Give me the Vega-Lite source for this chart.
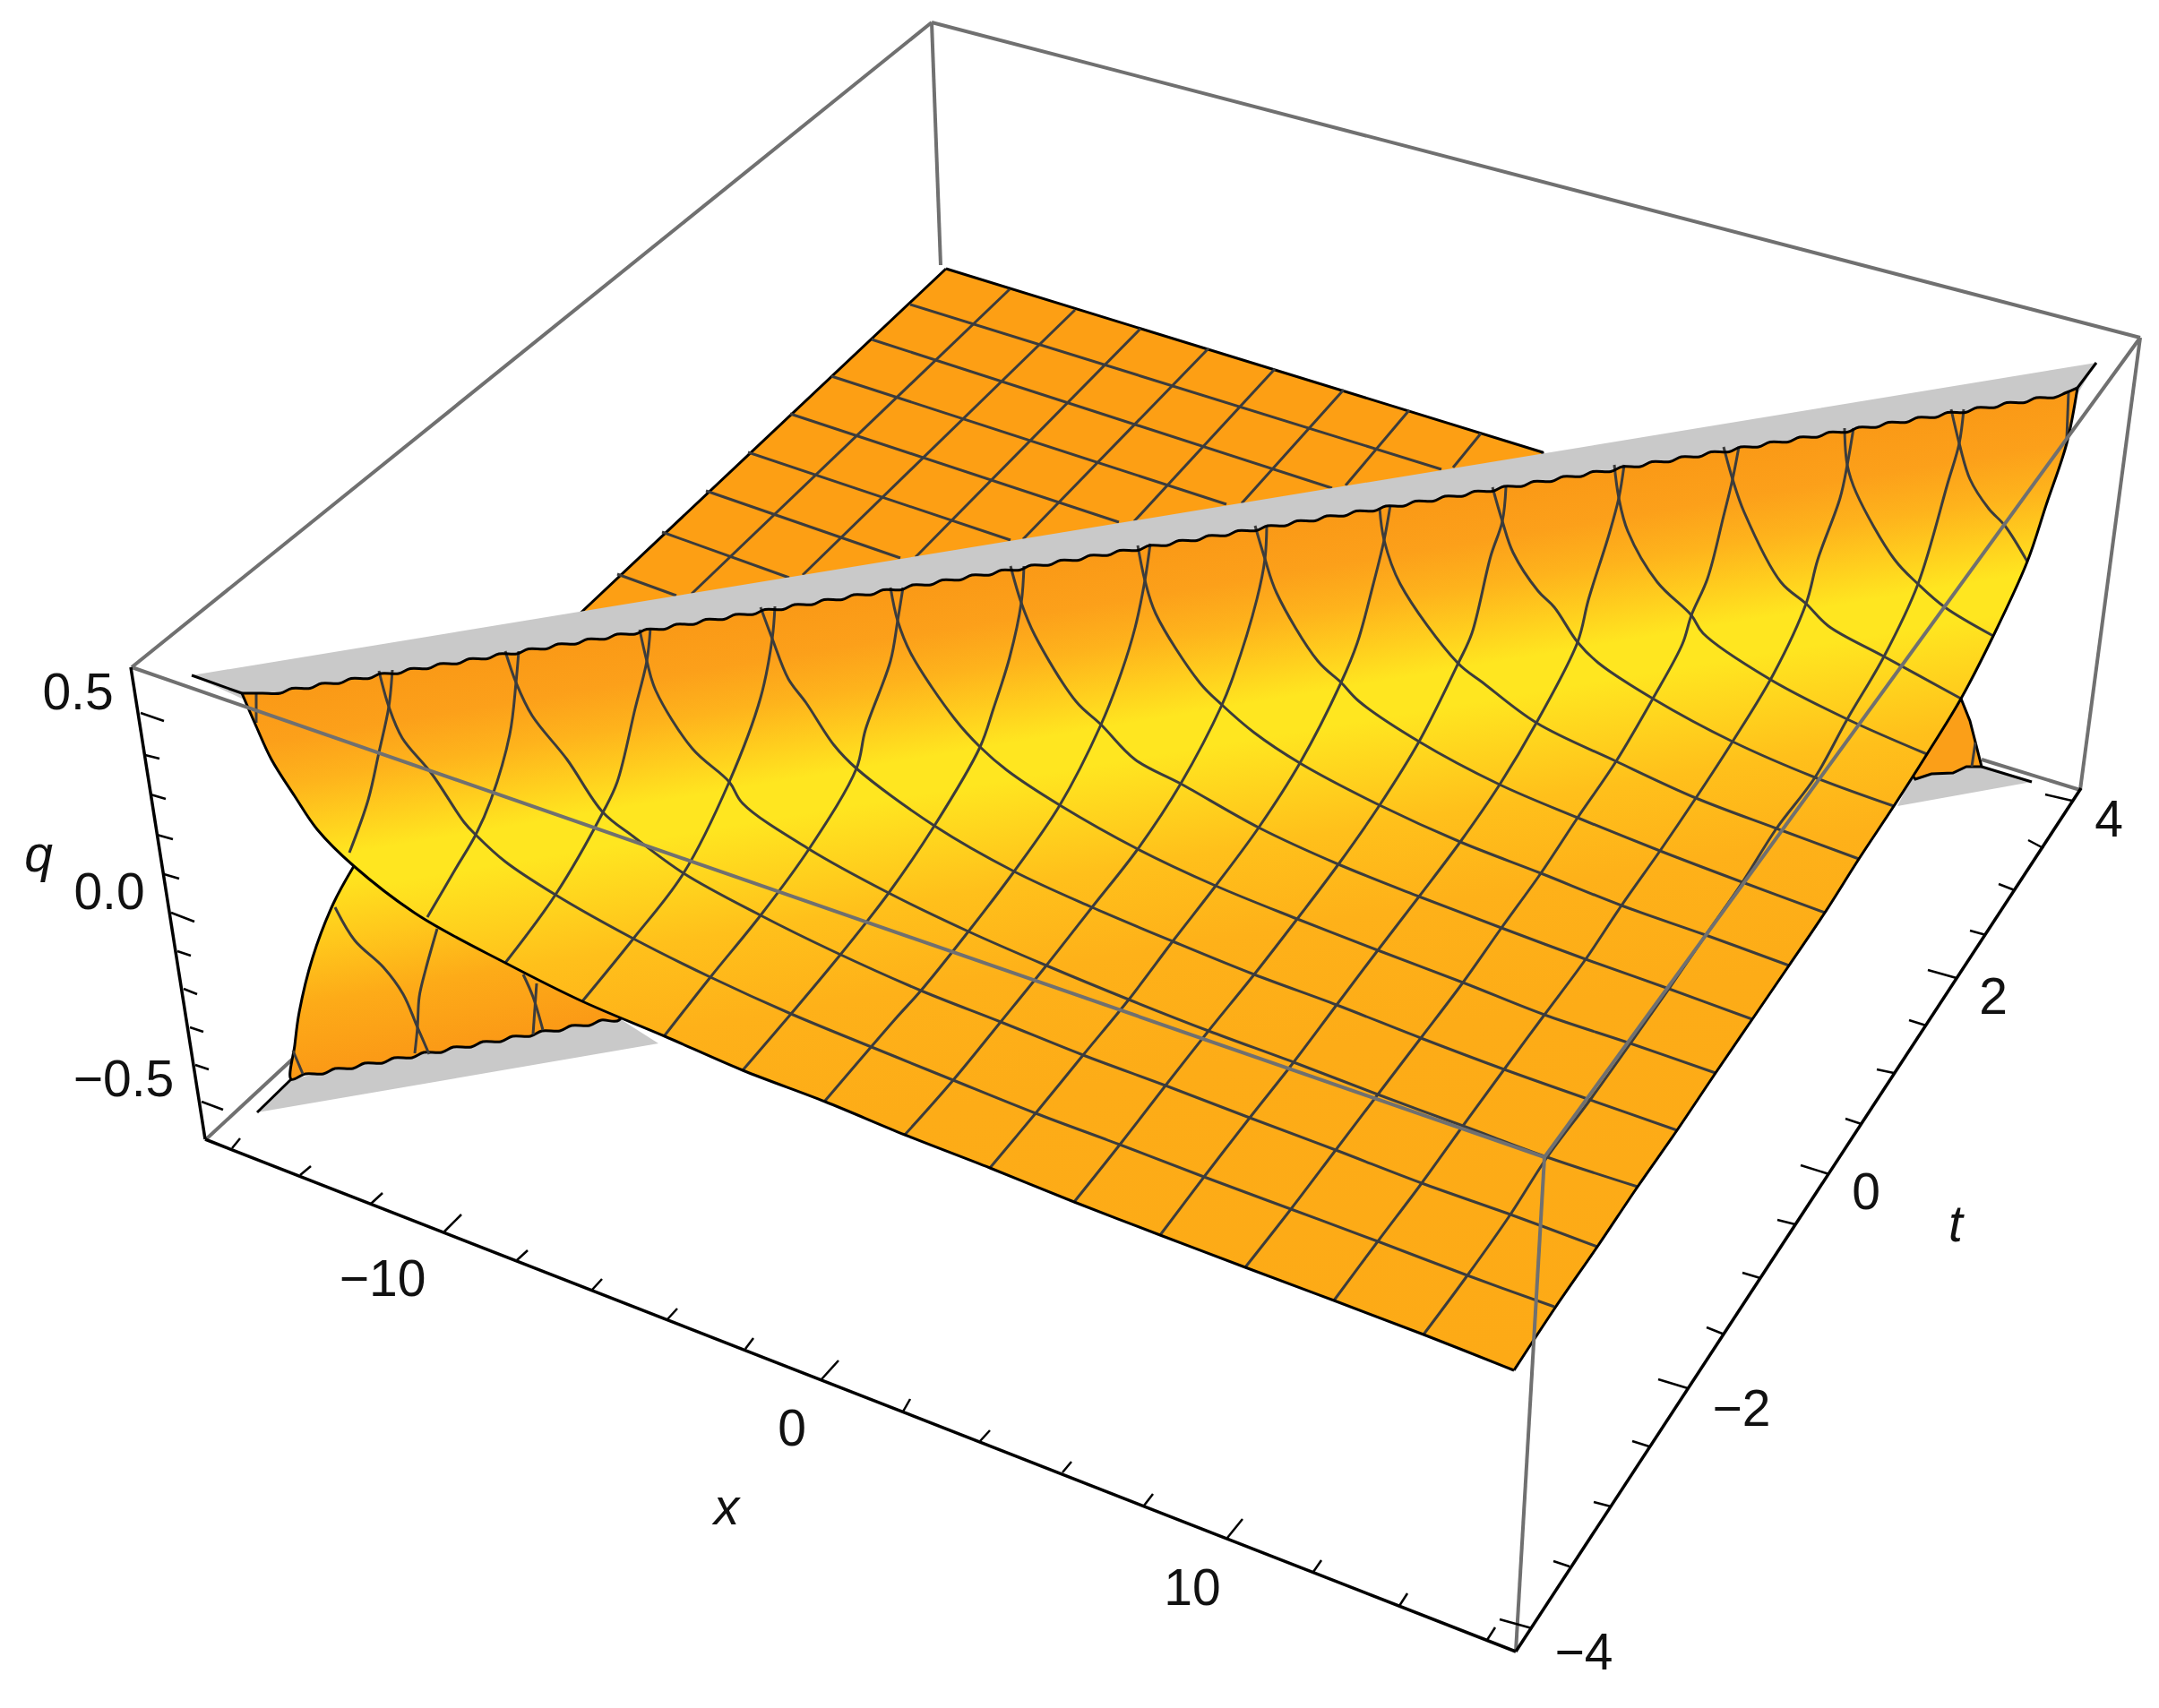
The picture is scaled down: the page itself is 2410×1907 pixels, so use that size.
{"$schema":"https://vega.github.io/schema/vega-lite/v6.json","width":2410,"height":1907,"padding":0,"autosize":{"type":"fit","contains":"padding"},"background":"white","config":{"view":{"stroke":null}},
"datasets":{
"plate":[{"sx":1056,"sy":300},{"sx":1722,"sy":505},{"sx":1722,"sy":515},{"sx":640,"sy":692},{"sx":1056,"sy":300}],
"plateMesh":[
{"p":"a","sx":1016,"sy":340},{"p":"a","sx":1609,"sy":524},{"p":"b","sx":973,"sy":379},{"p":"b","sx":1487,"sy":545},{"p":"c","sx":928,"sy":420},{"p":"c","sx":1369,"sy":563},{"p":"d","sx":882,"sy":462},{"p":"d","sx":1249,"sy":583},{"p":"e","sx":835,"sy":505},{"p":"e","sx":1128,"sy":603},{"p":"f","sx":788,"sy":548},{"p":"f","sx":1005,"sy":623},{"p":"g","sx":739,"sy":594},{"p":"g","sx":881,"sy":645},{"p":"h","sx":689,"sy":641},{"p":"h","sx":755,"sy":665},
{"p":"i","sx":1127,"sy":323},{"p":"i","sx":772,"sy":663},{"p":"j","sx":1200,"sy":346},{"p":"j","sx":896,"sy":642},{"p":"k","sx":1273,"sy":367},{"p":"k","sx":1022,"sy":622},{"p":"l","sx":1349,"sy":389},{"p":"l","sx":1142,"sy":602},{"p":"m","sx":1423,"sy":412},{"p":"m","sx":1266,"sy":582},{"p":"n","sx":1500,"sy":435},{"p":"n","sx":1386,"sy":562},{"p":"o","sx":1573,"sy":458},{"p":"o","sx":1502,"sy":542},{"p":"q","sx":1653,"sy":484},{"p":"q","sx":1622,"sy":522}],
"greyFront":[{"sx":214,"sy":754},{"sx":2340,"sy":405},{"sx":2319,"sy":440},{"sx":270,"sy":780}],
"greyLow":[{"sx":325,"sy":1205},{"sx":287,"sy":1242},{"sx":735,"sy":1165},{"sx":680,"sy":1130}],
"greyRight":[{"sx":2212,"sy":856},{"sx":2268,"sy":873},{"sx":2118,"sy":900},{"sx":2138,"sy":860}],
"lower":[{"sx":395,"sy":967},{"sx":372,"sy":1009},{"sx":349,"sy":1069},{"sx":334,"sy":1130},{"sx":329,"sy":1167},{"sx":325,"sy":1205},{"sx":341,"sy":1199},{"sx":361,"sy":1199},{"sx":374,"sy":1193},{"sx":394,"sy":1193},{"sx":407,"sy":1187},{"sx":427,"sy":1187},{"sx":440,"sy":1181},{"sx":460,"sy":1181},{"sx":473,"sy":1175},{"sx":493,"sy":1175},{"sx":506,"sy":1169},{"sx":526,"sy":1169},{"sx":539,"sy":1163},{"sx":559,"sy":1163},{"sx":572,"sy":1157},{"sx":592,"sy":1157},{"sx":605,"sy":1151},{"sx":625,"sy":1151},{"sx":638,"sy":1145},{"sx":658,"sy":1145},{"sx":671,"sy":1139},{"sx":691,"sy":1139},{"sx":700,"sy":1100},{"sx":500,"sy":1000},{"sx":395,"sy":967}],
"lowerMesh":[
{"p":"a","sx":374,"sy":1013},{"p":"a","sx":396,"sy":1050},{"p":"a","sx":428,"sy":1080},{"p":"a","sx":450,"sy":1110},{"p":"a","sx":466,"sy":1147},{"p":"a","sx":479,"sy":1177},
{"p":"b","sx":488,"sy":1037},{"p":"b","sx":475,"sy":1083},{"p":"b","sx":468,"sy":1113},{"p":"b","sx":466,"sy":1147},{"p":"b","sx":463,"sy":1176},
{"p":"c","sx":584,"sy":1088},{"p":"c","sx":595,"sy":1113},{"p":"c","sx":606,"sy":1150},
{"p":"d","sx":599,"sy":1098},{"p":"d","sx":595,"sy":1155},
{"p":"e","sx":327,"sy":1173},{"p":"e","sx":338,"sy":1199}],
"rightPiece":[{"sx":2189,"sy":780},{"sx":2199,"sy":805},{"sx":2212,"sy":856},{"sx":2195,"sy":856},{"sx":2180,"sy":863},{"sx":2156,"sy":864},{"sx":2138,"sy":870},{"sx":2130,"sy":860},{"sx":2189,"sy":780}],
"rightMesh":[{"p":"a","sx":2205,"sy":829},{"p":"a","sx":2201,"sy":856}],
"sheet":[{"sx":270,"sy":774},{"sx":293,"sy":774},{"sx":313,"sy":774},{"sx":326,"sy":768.5},{"sx":346,"sy":768.5},{"sx":359,"sy":763},{"sx":379,"sy":763},{"sx":392,"sy":757.5},{"sx":412,"sy":757.5},{"sx":425,"sy":752},{"sx":445,"sy":752},{"sx":458,"sy":746.5},{"sx":478,"sy":746.5},{"sx":491,"sy":741},{"sx":511,"sy":741},{"sx":524,"sy":735.5},{"sx":544,"sy":735.5},{"sx":557,"sy":730},{"sx":577,"sy":730},{"sx":590,"sy":724.5},{"sx":610,"sy":724.5},{"sx":623,"sy":719},{"sx":643,"sy":719},{"sx":656,"sy":713.5},{"sx":676,"sy":713.5},{"sx":689,"sy":708},{"sx":709,"sy":708},{"sx":722,"sy":702.5},{"sx":742,"sy":702.5},{"sx":755,"sy":697},{"sx":775,"sy":697},{"sx":788,"sy":691.5},{"sx":808,"sy":691.5},{"sx":821,"sy":686},{"sx":841,"sy":686},{"sx":854,"sy":680.5},{"sx":874,"sy":680.5},{"sx":887,"sy":675},{"sx":907,"sy":675},{"sx":920,"sy":669.5},{"sx":940,"sy":669.5},{"sx":953,"sy":664},{"sx":973,"sy":664},{"sx":986,"sy":658.5},{"sx":1006,"sy":658.5},{"sx":1019,"sy":653},{"sx":1039,"sy":653},{"sx":1052,"sy":647.5},{"sx":1072,"sy":647.5},{"sx":1085,"sy":642},{"sx":1105,"sy":642},{"sx":1118,"sy":636.5},{"sx":1138,"sy":636.5},{"sx":1151,"sy":631},{"sx":1171,"sy":631},{"sx":1184,"sy":625.5},{"sx":1204,"sy":625.5},{"sx":1217,"sy":620},{"sx":1237,"sy":620},{"sx":1250,"sy":614.5},{"sx":1270,"sy":614.5},{"sx":1283,"sy":609},{"sx":1303,"sy":609},{"sx":1316,"sy":603.5},{"sx":1336,"sy":603.5},{"sx":1349,"sy":598},{"sx":1369,"sy":598},{"sx":1382,"sy":592.5},{"sx":1402,"sy":592.5},{"sx":1415,"sy":587},{"sx":1435,"sy":587},{"sx":1448,"sy":581.5},{"sx":1468,"sy":581.5},{"sx":1481,"sy":576},{"sx":1501,"sy":576},{"sx":1514,"sy":570.5},{"sx":1534,"sy":570.5},{"sx":1547,"sy":565},{"sx":1567,"sy":565},{"sx":1580,"sy":559.5},{"sx":1600,"sy":559.5},{"sx":1613,"sy":554},{"sx":1633,"sy":554},{"sx":1646,"sy":548.5},{"sx":1666,"sy":548.5},{"sx":1679,"sy":543},{"sx":1699,"sy":543},{"sx":1712,"sy":537.5},{"sx":1732,"sy":537.5},{"sx":1745,"sy":532},{"sx":1765,"sy":532},{"sx":1778,"sy":526.5},{"sx":1798,"sy":526.5},{"sx":1811,"sy":521},{"sx":1831,"sy":521},{"sx":1844,"sy":515.5},{"sx":1864,"sy":515.5},{"sx":1877,"sy":510},{"sx":1897,"sy":510},{"sx":1910,"sy":504.5},{"sx":1930,"sy":504.5},{"sx":1943,"sy":499},{"sx":1963,"sy":499},{"sx":1976,"sy":493.5},{"sx":1996,"sy":493.5},{"sx":2009,"sy":488},{"sx":2029,"sy":488},{"sx":2042,"sy":482.5},{"sx":2062,"sy":482.5},{"sx":2075,"sy":477},{"sx":2095,"sy":477},{"sx":2108,"sy":471.5},{"sx":2128,"sy":471.5},{"sx":2141,"sy":466},{"sx":2161,"sy":466},{"sx":2174,"sy":460.5},{"sx":2194,"sy":460.5},{"sx":2207,"sy":455},{"sx":2227,"sy":455},{"sx":2240,"sy":449.5},{"sx":2260,"sy":449.5},{"sx":2273,"sy":444},{"sx":2293,"sy":444},{"sx":2306,"sy":438.5},{"sx":2319,"sy":433},
{"sx":2307,"sy":495},{"sx":2284,"sy":564},{"sx":2263,"sy":627},{"sx":2225,"sy":710},{"sx":2189,"sy":780},{"sx":2151,"sy":842},{"sx":2114,"sy":900},{"sx":2075,"sy":959},{"sx":2037,"sy":1019},{"sx":1997,"sy":1078},{"sx":1956,"sy":1138},{"sx":1915,"sy":1198},{"sx":1872,"sy":1262},{"sx":1828,"sy":1325},{"sx":1783,"sy":1392},{"sx":1736,"sy":1460},{"sx":1690,"sy":1530},
{"sx":1589,"sy":1490},{"sx":1489,"sy":1452},{"sx":1390,"sy":1415},{"sx":1295,"sy":1379},{"sx":1199,"sy":1342},{"sx":1105,"sy":1304},{"sx":1010,"sy":1267},{"sx":921,"sy":1230},{"sx":829,"sy":1195},{"sx":742,"sy":1157},{"sx":650,"sy":1118},{"sx":564,"sy":1075},{"sx":467,"sy":1022},{"sx":395,"sy":967},{"sx":354,"sy":926},{"sx":329,"sy":889},{"sx":303,"sy":848},{"sx":286,"sy":811},{"sx":270,"sy":774}],
"sheetMesh":[
{"p":"A1","sx":423,"sy":749},{"p":"A1","sx":434,"sy":789},{"p":"A1","sx":449,"sy":824},{"p":"A1","sx":482,"sy":864},{"p":"A1","sx":518,"sy":918},{"p":"A1","sx":531,"sy":932},{"p":"A1","sx":564,"sy":962},{"p":"A1","sx":620,"sy":999},{"p":"A1","sx":707,"sy":1048},{"p":"A1","sx":793,"sy":1091},{"p":"A1","sx":883,"sy":1132},{"p":"A1","sx":1000,"sy":1180},{"p":"A1","sx":1064,"sy":1206},{"p":"A1","sx":1156,"sy":1243},{"p":"A1","sx":1250,"sy":1278},{"p":"A1","sx":1344,"sy":1314},{"p":"A1","sx":1441,"sy":1350},{"p":"A1","sx":1538,"sy":1386},{"p":"A1","sx":1638,"sy":1424},{"p":"A1","sx":1735,"sy":1459},
{"p":"A2","sx":564,"sy":727},{"p":"A2","sx":576,"sy":762},{"p":"A2","sx":594,"sy":799},{"p":"A2","sx":633,"sy":848},{"p":"A2","sx":673,"sy":907},{"p":"A2","sx":707,"sy":934},{"p":"A2","sx":763,"sy":975},{"p":"A2","sx":849,"sy":1022},{"p":"A2","sx":930,"sy":1062},{"p":"A2","sx":1028,"sy":1106},{"p":"A2","sx":1117,"sy":1141},{"p":"A2","sx":1209,"sy":1178},{"p":"A2","sx":1301,"sy":1212},{"p":"A2","sx":1395,"sy":1248},{"p":"A2","sx":1491,"sy":1284},{"p":"A2","sx":1587,"sy":1321},{"p":"A2","sx":1686,"sy":1356},{"p":"A2","sx":1783,"sy":1392},
{"p":"A3","sx":714,"sy":703},{"p":"A3","sx":722,"sy":738},{"p":"A3","sx":732,"sy":771},{"p":"A3","sx":773,"sy":836},{"p":"A3","sx":814,"sy":873},{"p":"A3","sx":829,"sy":897},{"p":"A3","sx":903,"sy":948},{"p":"A3","sx":992,"sy":997},{"p":"A3","sx":1081,"sy":1040},{"p":"A3","sx":1168,"sy":1078},{"p":"A3","sx":1260,"sy":1116},{"p":"A3","sx":1349,"sy":1151},{"p":"A3","sx":1444,"sy":1186},{"p":"A3","sx":1538,"sy":1222},{"p":"A3","sx":1633,"sy":1257},{"p":"A3","sx":1727,"sy":1292},{"p":"A3","sx":1828,"sy":1325},
{"p":"A4","sx":849,"sy":678},{"p":"A4","sx":862,"sy":713},{"p":"A4","sx":880,"sy":758},{"p":"A4","sx":900,"sy":785},{"p":"A4","sx":931,"sy":832},{"p":"A4","sx":956,"sy":858},{"p":"A4","sx":1043,"sy":922},{"p":"A4","sx":1132,"sy":973},{"p":"A4","sx":1219,"sy":1013},{"p":"A4","sx":1309,"sy":1051},{"p":"A4","sx":1400,"sy":1088},{"p":"A4","sx":1492,"sy":1122},{"p":"A4","sx":1586,"sy":1159},{"p":"A4","sx":1679,"sy":1194},{"p":"A4","sx":1775,"sy":1228},{"p":"A4","sx":1872,"sy":1262},
{"p":"A5","sx":994,"sy":656},{"p":"A5","sx":1002,"sy":693},{"p":"A5","sx":1017,"sy":730},{"p":"A5","sx":1066,"sy":803},{"p":"A5","sx":1094,"sy":834},{"p":"A5","sx":1124,"sy":860},{"p":"A5","sx":1183,"sy":899},{"p":"A5","sx":1270,"sy":948},{"p":"A5","sx":1357,"sy":989},{"p":"A5","sx":1448,"sy":1026},{"p":"A5","sx":1538,"sy":1061},{"p":"A5","sx":1633,"sy":1097},{"p":"A5","sx":1724,"sy":1133},{"p":"A5","sx":1820,"sy":1165},{"p":"A5","sx":1915,"sy":1198},
{"p":"A6","sx":1128,"sy":632},{"p":"A6","sx":1140,"sy":673},{"p":"A6","sx":1155,"sy":709},{"p":"A6","sx":1201,"sy":783},{"p":"A6","sx":1229,"sy":809},{"p":"A6","sx":1267,"sy":848},{"p":"A6","sx":1318,"sy":875},{"p":"A6","sx":1405,"sy":924},{"p":"A6","sx":1494,"sy":965},{"p":"A6","sx":1584,"sy":1001},{"p":"A6","sx":1676,"sy":1036},{"p":"A6","sx":1770,"sy":1071},{"p":"A6","sx":1863,"sy":1104},{"p":"A6","sx":1956,"sy":1138},
{"p":"A7","sx":1270,"sy":609},{"p":"A7","sx":1278,"sy":648},{"p":"A7","sx":1290,"sy":685},{"p":"A7","sx":1339,"sy":762},{"p":"A7","sx":1364,"sy":787},{"p":"A7","sx":1400,"sy":818},{"p":"A7","sx":1451,"sy":852},{"p":"A7","sx":1540,"sy":899},{"p":"A7","sx":1630,"sy":940},{"p":"A7","sx":1720,"sy":975},{"p":"A7","sx":1810,"sy":1011},{"p":"A7","sx":1904,"sy":1044},{"p":"A7","sx":1997,"sy":1078},
{"p":"A8","sx":1401,"sy":587},{"p":"A8","sx":1412,"sy":624},{"p":"A8","sx":1425,"sy":662},{"p":"A8","sx":1471,"sy":738},{"p":"A8","sx":1497,"sy":762},{"p":"A8","sx":1517,"sy":783},{"p":"A8","sx":1584,"sy":828},{"p":"A8","sx":1674,"sy":876},{"p":"A8","sx":1761,"sy":913},{"p":"A8","sx":1853,"sy":950},{"p":"A8","sx":1945,"sy":985},{"p":"A8","sx":2037,"sy":1019},
{"p":"A9","sx":1540,"sy":567},{"p":"A9","sx":1545,"sy":603},{"p":"A9","sx":1563,"sy":652},{"p":"A9","sx":1627,"sy":740},{"p":"A9","sx":1655,"sy":762},{"p":"A9","sx":1715,"sy":807},{"p":"A9","sx":1804,"sy":850},{"p":"A9","sx":1893,"sy":891},{"p":"A9","sx":1983,"sy":925},{"p":"A9","sx":2075,"sy":959},
{"p":"A10","sx":1666,"sy":544},{"p":"A10","sx":1677,"sy":582},{"p":"A10","sx":1689,"sy":617},{"p":"A10","sx":1717,"sy":660},{"p":"A10","sx":1735,"sy":678},{"p":"A10","sx":1761,"sy":717},{"p":"A10","sx":1784,"sy":740},{"p":"A10","sx":1845,"sy":780},{"p":"A10","sx":1934,"sy":828},{"p":"A10","sx":2026,"sy":868},{"p":"A10","sx":2114,"sy":900},
{"p":"A11","sx":1802,"sy":519},{"p":"A11","sx":1807,"sy":556},{"p":"A11","sx":1817,"sy":593},{"p":"A11","sx":1850,"sy":650},{"p":"A11","sx":1888,"sy":687},{"p":"A11","sx":1901,"sy":707},{"p":"A11","sx":1975,"sy":758},{"p":"A11","sx":2062,"sy":803},{"p":"A11","sx":2151,"sy":842},
{"p":"A12","sx":1924,"sy":499},{"p":"A12","sx":1934,"sy":535},{"p":"A12","sx":1947,"sy":572},{"p":"A12","sx":1988,"sy":650},{"p":"A12","sx":2016,"sy":674},{"p":"A12","sx":2041,"sy":699},{"p":"A12","sx":2103,"sy":733},{"p":"A12","sx":2189,"sy":780},
{"p":"A13","sx":2059,"sy":478},{"p":"A13","sx":2062,"sy":519},{"p":"A13","sx":2072,"sy":550},{"p":"A13","sx":2115,"sy":625},{"p":"A13","sx":2141,"sy":652},{"p":"A13","sx":2171,"sy":678},{"p":"A13","sx":2225,"sy":710},
{"p":"A14","sx":2178,"sy":457},{"p":"A14","sx":2187,"sy":495},{"p":"A14","sx":2199,"sy":535},{"p":"A14","sx":2220,"sy":568},{"p":"A14","sx":2238,"sy":587},{"p":"A14","sx":2263,"sy":627},
{"p":"B0","sx":286,"sy":775},{"p":"B0","sx":286,"sy":807},
{"p":"B1","sx":438,"sy":748},{"p":"B1","sx":434,"sy":789},{"p":"B1","sx":423,"sy":840},{"p":"B1","sx":411,"sy":893},{"p":"B1","sx":390,"sy":952},
{"p":"B2","sx":579,"sy":727},{"p":"B2","sx":576,"sy":762},{"p":"B2","sx":569,"sy":820},{"p":"B2","sx":548,"sy":893},{"p":"B2","sx":531,"sy":932},{"p":"B2","sx":508,"sy":971},{"p":"B2","sx":477,"sy":1024},
{"p":"B3","sx":726,"sy":701},{"p":"B3","sx":722,"sy":738},{"p":"B3","sx":709,"sy":791},{"p":"B3","sx":689,"sy":873},{"p":"B3","sx":673,"sy":907},{"p":"B3","sx":620,"sy":999},{"p":"B3","sx":564,"sy":1075},
{"p":"B4","sx":865,"sy":677},{"p":"B4","sx":862,"sy":713},{"p":"B4","sx":849,"sy":779},{"p":"B4","sx":814,"sy":873},{"p":"B4","sx":763,"sy":975},{"p":"B4","sx":707,"sy":1048},{"p":"B4","sx":650,"sy":1118},
{"p":"B5","sx":1008,"sy":656},{"p":"B5","sx":1002,"sy":693},{"p":"B5","sx":994,"sy":738},{"p":"B5","sx":966,"sy":815},{"p":"B5","sx":956,"sy":858},{"p":"B5","sx":903,"sy":948},{"p":"B5","sx":849,"sy":1022},{"p":"B5","sx":793,"sy":1091},{"p":"B5","sx":742,"sy":1156},
{"p":"B6","sx":1143,"sy":632},{"p":"B6","sx":1140,"sy":673},{"p":"B6","sx":1127,"sy":734},{"p":"B6","sx":1109,"sy":791},{"p":"B6","sx":1094,"sy":834},{"p":"B6","sx":1043,"sy":922},{"p":"B6","sx":992,"sy":997},{"p":"B6","sx":938,"sy":1066},{"p":"B6","sx":883,"sy":1132},{"p":"B6","sx":829,"sy":1195},
{"p":"B7","sx":1284,"sy":607},{"p":"B7","sx":1278,"sy":648},{"p":"B7","sx":1267,"sy":701},{"p":"B7","sx":1252,"sy":750},{"p":"B7","sx":1229,"sy":809},{"p":"B7","sx":1183,"sy":899},{"p":"B7","sx":1132,"sy":973},{"p":"B7","sx":1081,"sy":1040},{"p":"B7","sx":1028,"sy":1106},{"p":"B7","sx":1000,"sy":1137},{"p":"B7","sx":921,"sy":1229},
{"p":"B8","sx":1414,"sy":587},{"p":"B8","sx":1412,"sy":624},{"p":"B8","sx":1403,"sy":669},{"p":"B8","sx":1377,"sy":754},{"p":"B8","sx":1364,"sy":787},{"p":"B8","sx":1318,"sy":875},{"p":"B8","sx":1270,"sy":948},{"p":"B8","sx":1219,"sy":1013},{"p":"B8","sx":1168,"sy":1078},{"p":"B8","sx":1117,"sy":1141},{"p":"B8","sx":1064,"sy":1206},{"p":"B8","sx":1010,"sy":1267},
{"p":"B9","sx":1552,"sy":564},{"p":"B9","sx":1545,"sy":603},{"p":"B9","sx":1533,"sy":652},{"p":"B9","sx":1515,"sy":718},{"p":"B9","sx":1497,"sy":762},{"p":"B9","sx":1451,"sy":852},{"p":"B9","sx":1405,"sy":924},{"p":"B9","sx":1357,"sy":989},{"p":"B9","sx":1309,"sy":1051},{"p":"B9","sx":1260,"sy":1116},{"p":"B9","sx":1209,"sy":1178},{"p":"B9","sx":1156,"sy":1243},{"p":"B9","sx":1105,"sy":1304},
{"p":"B10","sx":1681,"sy":544},{"p":"B10","sx":1677,"sy":582},{"p":"B10","sx":1664,"sy":621},{"p":"B10","sx":1643,"sy":707},{"p":"B10","sx":1628,"sy":740},{"p":"B10","sx":1584,"sy":828},{"p":"B10","sx":1540,"sy":899},{"p":"B10","sx":1494,"sy":965},{"p":"B10","sx":1448,"sy":1026},{"p":"B10","sx":1400,"sy":1088},{"p":"B10","sx":1349,"sy":1151},{"p":"B10","sx":1301,"sy":1212},{"p":"B10","sx":1250,"sy":1278},{"p":"B10","sx":1199,"sy":1342},
{"p":"B11","sx":1813,"sy":519},{"p":"B11","sx":1807,"sy":556},{"p":"B11","sx":1796,"sy":597},{"p":"B11","sx":1773,"sy":670},{"p":"B11","sx":1761,"sy":717},{"p":"B11","sx":1715,"sy":807},{"p":"B11","sx":1674,"sy":876},{"p":"B11","sx":1630,"sy":940},{"p":"B11","sx":1584,"sy":1001},{"p":"B11","sx":1538,"sy":1061},{"p":"B11","sx":1492,"sy":1122},{"p":"B11","sx":1444,"sy":1186},{"p":"B11","sx":1395,"sy":1248},{"p":"B11","sx":1344,"sy":1314},{"p":"B11","sx":1295,"sy":1379},
{"p":"B12","sx":1941,"sy":499},{"p":"B12","sx":1934,"sy":535},{"p":"B12","sx":1924,"sy":576},{"p":"B12","sx":1906,"sy":646},{"p":"B12","sx":1888,"sy":687},{"p":"B12","sx":1878,"sy":719},{"p":"B12","sx":1845,"sy":780},{"p":"B12","sx":1804,"sy":850},{"p":"B12","sx":1761,"sy":913},{"p":"B12","sx":1720,"sy":975},{"p":"B12","sx":1676,"sy":1036},{"p":"B12","sx":1633,"sy":1097},{"p":"B12","sx":1586,"sy":1159},{"p":"B12","sx":1538,"sy":1222},{"p":"B12","sx":1491,"sy":1284},{"p":"B12","sx":1441,"sy":1350},{"p":"B12","sx":1390,"sy":1415},
{"p":"B13","sx":2069,"sy":478},{"p":"B13","sx":2062,"sy":519},{"p":"B13","sx":2054,"sy":556},{"p":"B13","sx":2029,"sy":625},{"p":"B13","sx":2016,"sy":674},{"p":"B13","sx":1980,"sy":752},{"p":"B13","sx":1934,"sy":828},{"p":"B13","sx":1893,"sy":891},{"p":"B13","sx":1853,"sy":950},{"p":"B13","sx":1810,"sy":1011},{"p":"B13","sx":1770,"sy":1071},{"p":"B13","sx":1724,"sy":1133},{"p":"B13","sx":1679,"sy":1194},{"p":"B13","sx":1633,"sy":1257},{"p":"B13","sx":1587,"sy":1321},{"p":"B13","sx":1538,"sy":1386},{"p":"B13","sx":1489,"sy":1452},
{"p":"B14","sx":2192,"sy":457},{"p":"B14","sx":2187,"sy":495},{"p":"B14","sx":2174,"sy":540},{"p":"B14","sx":2141,"sy":652},{"p":"B14","sx":2103,"sy":733},{"p":"B14","sx":2062,"sy":803},{"p":"B14","sx":2026,"sy":868},{"p":"B14","sx":1983,"sy":925},{"p":"B14","sx":1945,"sy":985},{"p":"B14","sx":1904,"sy":1044},{"p":"B14","sx":1863,"sy":1104},{"p":"B14","sx":1820,"sy":1165},{"p":"B14","sx":1775,"sy":1228},{"p":"B14","sx":1727,"sy":1292},{"p":"B14","sx":1686,"sy":1356},{"p":"B14","sx":1638,"sy":1424},{"p":"B14","sx":1589,"sy":1490},
{"p":"B15","sx":2309,"sy":438},{"p":"B15","sx":2307,"sy":490}],
"boxBack":[{"sx":147,"sy":745,"ex":1040,"ey":25},{"sx":1040,"sy":25,"ex":2389,"ey":377},{"sx":1040,"sy":25,"ex":1050,"ey":296},{"sx":230,"sy":1272,"ex":327,"ey":1182},{"sx":2322,"sy":882,"ex":2212,"ey":848}],
"boxFront":[{"sx":147,"sy":745,"ex":1724,"ey":1292},{"sx":2389,"sy":377,"ex":1724,"ey":1292},{"sx":1724,"sy":1292,"ex":1692,"ey":1844},{"sx":2389,"sy":377,"ex":2322,"ey":882}],
"axes":[{"sx":146,"sy":745,"ex":229,"ey":1272},{"sx":229,"sy":1272,"ex":1692,"ey":1844},{"sx":1692,"sy":1844,"ex":2323,"ey":880}],
"edges":[{"sx":214,"sy":754,"ex":270,"ey":774},{"sx":2340,"sy":405,"ex":2319,"ey":433},{"sx":287,"sy":1242,"ex":325,"ey":1205},{"sx":2212,"sy":856,"ex":2268,"ey":873}],
"ticks":[
{"sx":157,"sy":796,"ex":183,"ey":805},{"sx":162,"sy":843,"ex":178,"ey":847},{"sx":168,"sy":887,"ex":185,"ey":892},{"sx":175,"sy":932,"ex":193,"ey":937},{"sx":183,"sy":976,"ex":200,"ey":981},{"sx":191,"sy":1019,"ex":217,"ey":1029},{"sx":198,"sy":1062,"ex":213,"ey":1067},{"sx":205,"sy":1104,"ex":220,"ey":1110},{"sx":212,"sy":1147,"ex":227,"ey":1152},{"sx":218,"sy":1189,"ex":233,"ey":1194},{"sx":225,"sy":1230,"ex":249,"ey":1239},
{"sx":259,"sy":1282,"ex":268,"ey":1271},{"sx":335,"sy":1312,"ex":347,"ey":1302},{"sx":414,"sy":1344,"ex":427,"ey":1332},{"sx":496,"sy":1375,"ex":515,"ey":1356},{"sx":577,"sy":1407,"ex":589,"ey":1396},{"sx":661,"sy":1440,"ex":672,"ey":1428},{"sx":745,"sy":1473,"ex":756,"ey":1461},{"sx":832,"sy":1506,"ex":841,"ey":1494},{"sx":917,"sy":1540,"ex":936,"ey":1519},{"sx":1008,"sy":1576,"ex":1016,"ey":1562},{"sx":1094,"sy":1609,"ex":1105,"ey":1597},{"sx":1186,"sy":1644,"ex":1196,"ey":1632},{"sx":1277,"sy":1681,"ex":1287,"ey":1668},{"sx":1370,"sy":1717,"ex":1387,"ey":1696},{"sx":1466,"sy":1755,"ex":1475,"ey":1742},{"sx":1562,"sy":1793,"ex":1571,"ey":1779},{"sx":1660,"sy":1831,"ex":1669,"ey":1817},
{"sx":1710,"sy":1818,"ex":1674,"ey":1808},{"sx":1752,"sy":1749,"ex":1734,"ey":1743},{"sx":1798,"sy":1682,"ex":1779,"ey":1677},{"sx":1841,"sy":1615,"ex":1822,"ey":1609},{"sx":1884,"sy":1550,"ex":1851,"ey":1540},{"sx":1925,"sy":1490,"ex":1905,"ey":1482},{"sx":1965,"sy":1427,"ex":1945,"ey":1421},{"sx":2004,"sy":1367,"ex":1984,"ey":1362},{"sx":2042,"sy":1311,"ex":2010,"ey":1301},{"sx":2078,"sy":1255,"ex":2060,"ey":1249},{"sx":2114,"sy":1198,"ex":2095,"ey":1194},{"sx":2150,"sy":1145,"ex":2131,"ey":1139},{"sx":2184,"sy":1092,"ex":2152,"ey":1083},{"sx":2217,"sy":1044,"ex":2199,"ey":1039},{"sx":2249,"sy":994,"ex":2231,"ey":987},{"sx":2281,"sy":947,"ex":2264,"ey":938},{"sx":2313,"sy":894,"ex":2283,"ey":887}],
"labels":[{"t":"0.5","sx":87,"sy":775},{"t":"0.0","sx":122,"sy":998},{"t":"−0.5","sx":138,"sy":1207},{"t":"−10","sx":427,"sy":1430},{"t":"0","sx":884,"sy":1597},{"t":"10","sx":1331,"sy":1775},{"t":"4","sx":2354,"sy":917},{"t":"2","sx":2225,"sy":1115},{"t":"0","sx":2083,"sy":1333},{"t":"−2","sx":1944,"sy":1575},{"t":"−4","sx":1768,"sy":1847}],
"titles":[{"t":"q","sx":43,"sy":956},{"t":"x","sx":811,"sy":1685},{"t":"t","sx":2183,"sy":1369}]
},
"encoding":{"x":{"field":"sx","type":"quantitative","scale":{"domain":[0,2410],"nice":false,"zero":false},"axis":null},"y":{"field":"sy","type":"quantitative","scale":{"domain":[1907,0],"nice":false,"zero":false},"axis":null}},
"layer":[
{"data":{"name":"plate"},"transform":[{"window":[{"op":"row_number","as":"i"}]}],"mark":{"type":"line","filled":true,"fill":"#fd9f14","stroke":"black","strokeWidth":3,"strokeJoin":"round"},"encoding":{"order":{"field":"i"}}},
{"data":{"name":"plateMesh"},"transform":[{"window":[{"op":"row_number","as":"i"}]}],"mark":{"type":"line","stroke":"#3c3c3c","strokeWidth":3},"encoding":{"detail":{"field":"p"},"order":{"field":"i"}}},
{"data":{"name":"boxBack"},"mark":{"type":"rule","stroke":"#707070","strokeWidth":4},"encoding":{"x2":{"field":"ex"},"y2":{"field":"ey"}}},
{"data":{"name":"greyLow"},"transform":[{"window":[{"op":"row_number","as":"i"}]}],"mark":{"type":"line","filled":true,"fill":"#c9c9c9","strokeWidth":0},"encoding":{"order":{"field":"i"}}},
{"data":{"name":"greyRight"},"transform":[{"window":[{"op":"row_number","as":"i"}]}],"mark":{"type":"line","filled":true,"fill":"#c9c9c9","strokeWidth":0},"encoding":{"order":{"field":"i"}}},
{"data":{"name":"lower"},"transform":[{"window":[{"op":"row_number","as":"i"}]}],"mark":{"type":"line","filled":true,"interpolate":"catmull-rom","stroke":"black","strokeWidth":3,"strokeJoin":"round","fill":{"gradient":"linear","x1":0.187,"y1":0,"x2":0.432,"y2":0.864,"stops":[{"offset":0,"color":"#ffe81f"},{"offset":0.35,"color":"#ffc81c"},{"offset":0.65,"color":"#fdab18"},{"offset":1,"color":"#fb9a16"}]}},"encoding":{"order":{"field":"i"}}},
{"data":{"name":"lowerMesh"},"transform":[{"window":[{"op":"row_number","as":"i"}]}],"mark":{"type":"line","interpolate":"catmull-rom","stroke":"#3c3c3c","strokeWidth":3},"encoding":{"detail":{"field":"p"},"order":{"field":"i"}}},
{"data":{"name":"rightPiece"},"transform":[{"window":[{"op":"row_number","as":"i"}]}],"mark":{"type":"line","filled":true,"fill":"#fb9f18","stroke":"black","strokeWidth":3},"encoding":{"order":{"field":"i"}}},
{"data":{"name":"rightMesh"},"transform":[{"window":[{"op":"row_number","as":"i"}]}],"mark":{"type":"line","stroke":"#3c3c3c","strokeWidth":3},"encoding":{"detail":{"field":"p"},"order":{"field":"i"}}},
{"data":{"name":"greyFront"},"transform":[{"window":[{"op":"row_number","as":"i"}]}],"mark":{"type":"line","filled":true,"fill":"#c9c9c9","strokeWidth":0},"encoding":{"order":{"field":"i"}}},
{"data":{"name":"edges"},"mark":{"type":"rule","stroke":"black","strokeWidth":3},"encoding":{"x2":{"field":"ex"},"y2":{"field":"ey"}}},
{"data":{"name":"sheet"},"transform":[{"window":[{"op":"row_number","as":"i"}]}],"mark":{"type":"line","filled":true,"strokeWidth":0,"fill":{"gradient":"linear","x1":0,"y1":0.311,"x2":0.2565,"y2":1.1357,"stops":[{"offset":0,"color":"#fa9916"},{"offset":0.06,"color":"#fca01a"},{"offset":0.11,"color":"#feb31c"},{"offset":0.16,"color":"#ffcf1e"},{"offset":0.2,"color":"#ffe620"},{"offset":0.24,"color":"#ffe620"},{"offset":0.29,"color":"#ffd61e"},{"offset":0.36,"color":"#ffc01b"},{"offset":0.46,"color":"#feb119"},{"offset":0.6,"color":"#fdac17"},{"offset":1,"color":"#fdaa16"}]}},"encoding":{"order":{"field":"i"}}},
{"data":{"name":"sheetMesh"},"transform":[{"window":[{"op":"row_number","as":"i"}]}],"mark":{"type":"line","interpolate":"catmull-rom","stroke":"#3c3c3c","strokeWidth":3},"encoding":{"detail":{"field":"p"},"order":{"field":"i"}}},
{"data":{"name":"sheet"},"transform":[{"window":[{"op":"row_number","as":"i"}]},{"filter":"datum.i <= 125"}],"mark":{"type":"line","interpolate":"catmull-rom","stroke":"black","strokeWidth":3},"encoding":{"order":{"field":"i"}}},
{"data":{"name":"sheet"},"transform":[{"window":[{"op":"row_number","as":"i"}]},{"filter":"datum.i >= 125 && datum.i <= 142"}],"mark":{"type":"line","interpolate":"catmull-rom","stroke":"black","strokeWidth":3},"encoding":{"order":{"field":"i"}}},
{"data":{"name":"sheet"},"transform":[{"window":[{"op":"row_number","as":"i"}]},{"filter":"datum.i >= 142"}],"mark":{"type":"line","interpolate":"catmull-rom","stroke":"black","strokeWidth":3},"encoding":{"order":{"field":"i"}}},
{"data":{"name":"boxFront"},"mark":{"type":"rule","stroke":"#707070","strokeWidth":4},"encoding":{"x2":{"field":"ex"},"y2":{"field":"ey"}}},
{"data":{"name":"axes"},"mark":{"type":"rule","stroke":"black","strokeWidth":3.5},"encoding":{"x2":{"field":"ex"},"y2":{"field":"ey"}}},
{"data":{"name":"ticks"},"mark":{"type":"rule","stroke":"black","strokeWidth":2.5},"encoding":{"x2":{"field":"ex"},"y2":{"field":"ey"}}},
{"data":{"name":"labels"},"mark":{"type":"text","font":"Liberation Sans","fontSize":57,"fill":"#111111","align":"center","baseline":"middle"},"encoding":{"text":{"field":"t"}}},
{"data":{"name":"titles"},"mark":{"type":"text","font":"Liberation Sans","fontStyle":"italic","fontSize":57,"fill":"#111111","align":"center","baseline":"middle"},"encoding":{"text":{"field":"t"}}}
]}
